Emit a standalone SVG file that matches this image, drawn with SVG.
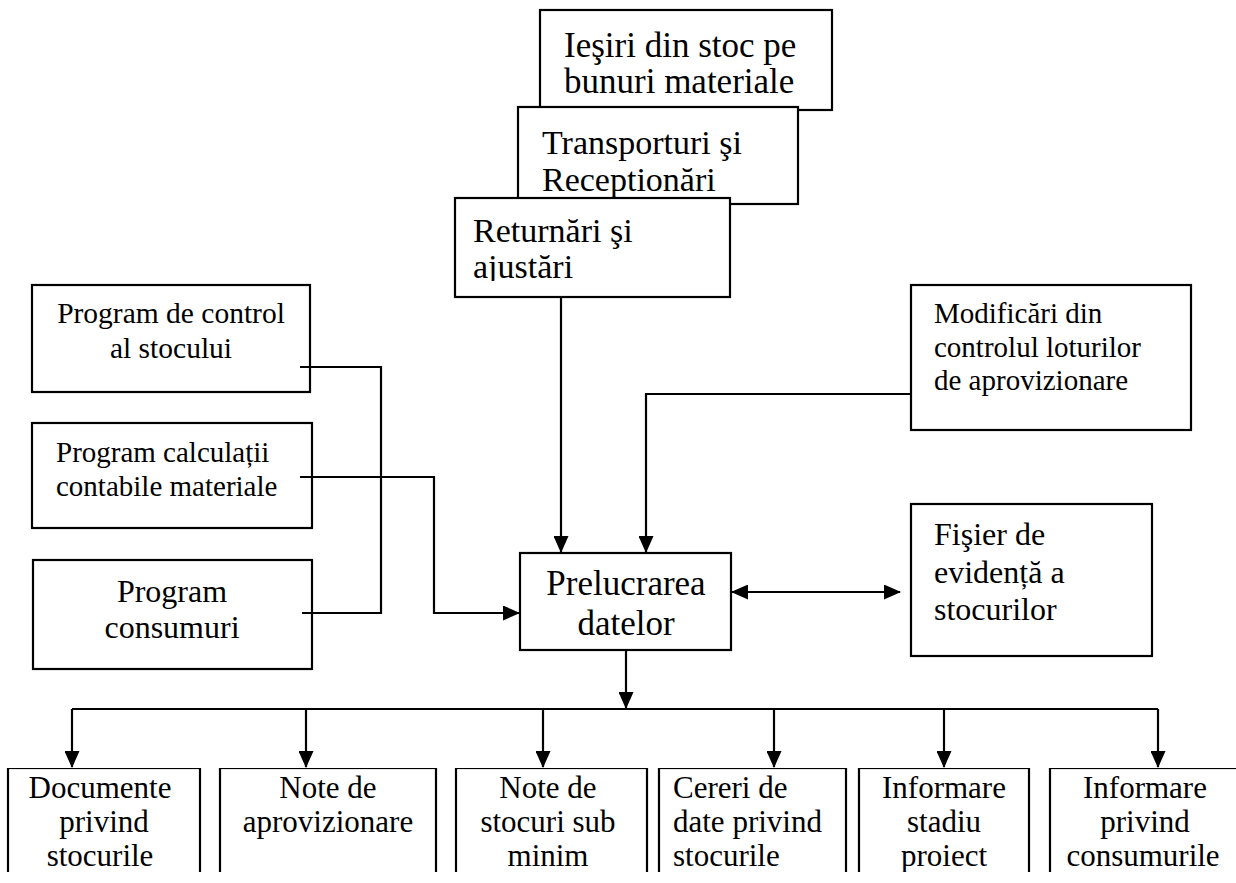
<svg xmlns="http://www.w3.org/2000/svg" width="1236" height="883" viewBox="0 0 1236 883">
  <style>
    .box { fill: #fff; stroke: #000; stroke-width: 2.2; }
    .lbl { font-family: "Liberation Serif", "Times New Roman", serif; fill: #000; }
    .c { text-anchor: middle; }
    .wire { fill: none; stroke: #000; stroke-width: 2.2; }
    .arr { marker-end: url(#ah); }
    .bi { marker-start: url(#ah); marker-end: url(#ah); }
  </style>
  <defs>
    <marker id="ah" markerWidth="17" markerHeight="15" refX="16" refY="7.5" orient="auto-start-reverse" markerUnits="userSpaceOnUse">
      <path d="M0,0 L17,7.5 L0,15 z" fill="#000"/>
    </marker>
    <clipPath id="clipRet"><rect x="455" y="198" width="276" height="83"/></clipPath>
    <clipPath id="clipBottom"><rect x="0" y="768" width="1236" height="104"/></clipPath>
  </defs>
  <rect width="1236" height="883" fill="#fff"/>

  <!-- stacked input documents -->
  <g id="iesiri">
    <rect class="box" x="540" y="10" width="292" height="100"/>
    <text class="lbl" font-size="35" x="564" y="57">Ieşiri din stoc pe</text>
    <text class="lbl" font-size="35" x="564" y="93">bunuri materiale</text>
  </g>
  <g id="transporturi">
    <rect class="box" x="518" y="107" width="280" height="97"/>
    <text class="lbl" font-size="34" x="542" y="154">Transporturi şi</text>
    <text class="lbl" font-size="34" x="542" y="191">Receptionări</text>
  </g>
  <g id="returnari">
    <rect class="box" x="455" y="198" width="275" height="99"/>
    <g clip-path="url(#clipRet)">
      <text class="lbl" font-size="34" x="473" y="242">Returnări şi</text>
      <text class="lbl" font-size="34" x="473" y="278">ajustări</text>
    </g>
  </g>

  <!-- programs on the left -->
  <g id="program-control">
    <rect class="box" x="32" y="285" width="278" height="107"/>
    <text class="lbl c" font-size="29.5" x="171" y="323">Program de control</text>
    <text class="lbl c" font-size="29.5" x="171" y="358">al stocului</text>
  </g>
  <g id="program-calculatii">
    <rect class="box" x="32" y="423" width="280" height="105"/>
    <text class="lbl" font-size="29" x="56" y="462">Program calculații</text>
    <text class="lbl" font-size="29" x="56" y="496">contabile materiale</text>
  </g>
  <g id="program-consumuri">
    <rect class="box" x="33" y="560" width="279" height="109"/>
    <text class="lbl c" font-size="32" x="172" y="602">Program</text>
    <text class="lbl c" font-size="32" x="172" y="638">consumuri</text>
  </g>

  <!-- central processing -->
  <g id="prelucrare">
    <rect class="box" x="520" y="553" width="211" height="97"/>
    <text class="lbl c" font-size="35" x="626" y="595">Prelucrarea</text>
    <text class="lbl c" font-size="35" x="626" y="635">datelor</text>
  </g>

  <!-- right side -->
  <g id="modificari">
    <rect class="box" x="911" y="285" width="280" height="145"/>
    <text class="lbl" font-size="29" x="934" y="323">Modificări din</text>
    <text class="lbl" font-size="29" x="934" y="357">controlul loturilor</text>
    <text class="lbl" font-size="29" x="934" y="390">de aprovizionare</text>
  </g>
  <g id="fisier">
    <rect class="box" x="911" y="504" width="241" height="152"/>
    <text class="lbl" font-size="32" x="934" y="545">Fişier de</text>
    <text class="lbl" font-size="32" x="934" y="583">evidență a</text>
    <text class="lbl" font-size="32" x="934" y="620">stocurilor</text>
  </g>

  <!-- outputs -->
  <g clip-path="url(#clipBottom)">
    <g id="documente">
      <rect class="box" x="8" y="768" width="192" height="130"/>
      <text class="lbl c" font-size="31" x="100" y="798">Documente</text>
      <text class="lbl c" font-size="31" x="104" y="832">privind</text>
      <text class="lbl c" font-size="31" x="100" y="866">stocurile</text>
    </g>
    <g id="note-aprovizionare">
      <rect class="box" x="220" y="768" width="216" height="130"/>
      <text class="lbl c" font-size="31" x="328" y="798">Note de</text>
      <text class="lbl c" font-size="31" x="328" y="832">aprovizionare</text>
    </g>
    <g id="note-stocuri">
      <rect class="box" x="456" y="768" width="191" height="130"/>
      <text class="lbl c" font-size="31" x="548" y="798">Note de</text>
      <text class="lbl c" font-size="31" x="548" y="832">stocuri sub</text>
      <text class="lbl c" font-size="31" x="548" y="866">minim</text>
    </g>
    <g id="cereri">
      <rect class="box" x="659" y="768" width="187" height="130"/>
      <text class="lbl" font-size="31" x="673" y="798">Cereri de</text>
      <text class="lbl" font-size="31" x="673" y="832">date privind</text>
      <text class="lbl" font-size="31" x="673" y="866">stocurile</text>
    </g>
    <g id="informare-stadiu">
      <rect class="box" x="859" y="768" width="170" height="130"/>
      <text class="lbl c" font-size="31" x="944" y="798">Informare</text>
      <text class="lbl c" font-size="31" x="944" y="832">stadiu</text>
      <text class="lbl c" font-size="31" x="944" y="866">proiect</text>
    </g>
    <g id="informare-consumuri">
      <rect class="box" x="1050" y="768" width="200" height="130"/>
      <text class="lbl c" font-size="31" x="1145" y="798">Informare</text>
      <text class="lbl c" font-size="31" x="1145" y="832">privind</text>
      <text class="lbl c" font-size="31" x="1143" y="866">consumurile</text>
    </g>
  </g>

  <!-- connectors -->
  <g id="connectors">
    <path class="wire" d="M300,367 H381 V613 H302"/>
    <path class="wire arr" d="M300,477 H434 V613 H519"/>
    <path class="wire arr" d="M561,297 V552"/>
    <path class="wire arr" d="M911,394 H646 V552"/>
    <path class="wire bi" d="M732,592 H900"/>
    <path class="wire arr" d="M626,650 V708"/>
    <path class="wire" d="M72,709 H1158"/>
    <path class="wire arr" d="M72,709 V767"/>
    <path class="wire arr" d="M306,709 V767"/>
    <path class="wire arr" d="M543,709 V767"/>
    <path class="wire arr" d="M774,709 V767"/>
    <path class="wire arr" d="M944,709 V767"/>
    <path class="wire arr" d="M1158,709 V767"/>
  </g>
</svg>
